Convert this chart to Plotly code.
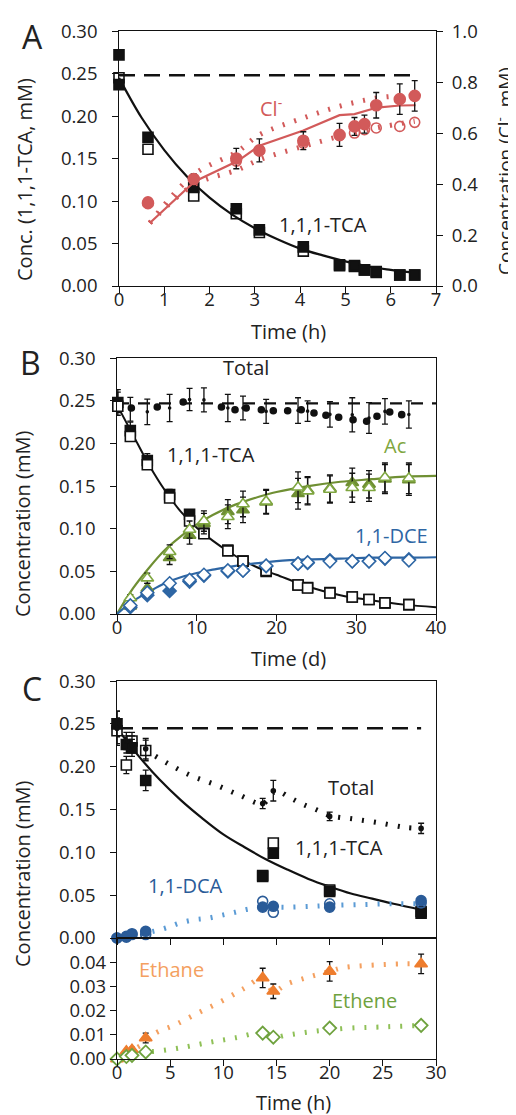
import plotly.graph_objects as go

FONT = "Open Sans"
BLACK = "#111111"
RED = "#d25a5a"
GREEN_L = "#6f8f33"
GREEN_M = "#7fa640"
BLUE = "#2e66a4"
BLUE_DOT = "#5b9bd5"
DCA_BLUE = "#2a5b98"
ORANGE = "#ee7d2e"
ORANGE_DOT = "#f4a060"
ETHENE = "#6fa23e"
ETHENE_DOT = "#8fc057"

# ---------------- Panel A data ----------------
a_tca_filled_t = [0, 0, 0.64, 1.65, 2.59, 3.1, 4.07, 4.87, 5.2, 5.42, 5.68, 6.2, 6.53]
a_tca_filled = [0.272, 0.237, 0.175, 0.116, 0.091, 0.066, 0.046, 0.025, 0.024, 0.019, 0.017, 0.013, 0.013]
a_tca_open_t = [0, 0.64, 1.65, 2.59, 3.1, 4.07, 4.87, 5.2, 5.42, 5.68, 6.2, 6.53]
a_tca_open = [0.245, 0.161, 0.106, 0.085, 0.063, 0.041, 0.024, 0.023, 0.019, 0.016, 0.013, 0.013]
a_fit_t = [0, 0.5, 1, 1.5, 2, 2.5, 3, 3.5, 4, 4.5, 5, 5.5, 6, 6.6]
a_fit = [0.245, 0.198, 0.160, 0.129, 0.104, 0.084, 0.068, 0.055, 0.044, 0.036, 0.029, 0.023, 0.019, 0.015]
a_total_t = [0, 6.53]
a_total = [0.248, 0.248]

a_cl_t = [0.64, 1.65, 2.59, 3.1, 4.07, 4.87, 5.2, 5.42, 5.68, 6.2, 6.53]
a_cl_filled = [0.325, 0.42, 0.50, 0.532, 0.57, 0.593, 0.626, 0.635, 0.709, 0.733, 0.746]
a_cl_err = [0.015, 0.02, 0.04, 0.045, 0.035, 0.045, 0.035, 0.035, 0.05, 0.06, 0.06]
a_cl_open = [0.33, 0.42, 0.49, 0.53, 0.56, 0.59, 0.60, 0.613, 0.62, 0.626, 0.642]
a_cl_model_t = [0.68, 1.67, 2.62, 3.1, 4.07, 4.87, 5.2, 5.7, 6.2, 6.55]
a_cl_model = [0.247, 0.41, 0.49, 0.55, 0.61, 0.67, 0.674, 0.70, 0.708, 0.709]
a_cl_band_t = [0.68, 1.65, 2.62, 3.1, 4.07, 4.87, 5.68, 6.53]
a_cl_upper = [0.247, 0.437, 0.528, 0.593, 0.659, 0.705, 0.737, 0.75]
a_cl_lower = [0.247, 0.397, 0.456, 0.495, 0.548, 0.587, 0.62, 0.646]

# ---------------- Panel B data ----------------
b_t = [0.1, 1.67, 3.8, 6.6, 9.1, 10.9, 13.9, 15.8, 18.7, 22.7, 23.9, 26.7, 29.5, 31.6, 33.6, 36.6]
b_tca_open = [0.2435, 0.208, 0.175, 0.136, 0.109, 0.094, 0.074, 0.062, 0.051, 0.034, 0.0305, 0.0246, 0.020, 0.017, 0.013, 0.011]
b_tca_filled = [0.248, 0.215, 0.180, 0.140, 0.117, 0.095, 0.075, 0.062, 0.050, 0.034, 0.031, 0.025, 0.020, 0.017, 0.013, 0.011]
b_tca_err = [0.012, 0.010, 0.008, 0.006, 0.005, 0, 0, 0, 0, 0, 0, 0, 0, 0, 0, 0]
b_tca_fit_t = [0, 2, 4, 6, 8, 10, 12, 14, 16, 18, 20, 24, 28, 32, 36, 40]
b_tca_fit = [0.245, 0.210, 0.175, 0.145, 0.120, 0.101, 0.086, 0.073, 0.062, 0.053, 0.046, 0.032, 0.022, 0.016, 0.011, 0.008]

b_s_t = [1.67, 3.8, 6.6, 9.1, 10.9, 13.9, 15.8, 18.7, 22.7, 23.9, 26.7, 29.5, 31.6, 33.6, 36.6]
b_ac_open = [0.0188, 0.042, 0.073, 0.099, 0.109, 0.114, 0.129, 0.132, 0.1485, 0.144, 0.146, 0.148, 0.148, 0.160, 0.159]
b_ac_filled = [0.009, 0.030, 0.066, 0.092, 0.106, 0.120, 0.122, 0.131, 0.141, 0.145, 0.147, 0.154, 0.152, 0.158, 0.157]
b_ac_err = [0.004, 0.006, 0.008, 0.010, 0.012, 0.014, 0.015, 0.014, 0.018, 0.016, 0.016, 0.017, 0.016, 0.017, 0.018]
b_ac_fit_t = [0, 2, 4, 6, 8, 10, 12, 14, 16, 18, 20, 24, 28, 32, 36, 40]
b_ac_fit = [0, 0.030, 0.054, 0.075, 0.091, 0.105, 0.116, 0.125, 0.132, 0.138, 0.143, 0.150, 0.155, 0.158, 0.161, 0.162]

b_dce_open = [0.010, 0.025, 0.036, 0.040, 0.046, 0.051, 0.051, 0.0566, 0.059, 0.0606, 0.0618, 0.0618, 0.0618, 0.0656, 0.063]
b_dce_filled = [0.008, 0.022, 0.027, 0.038, 0.045, 0.050, 0.051, 0.056, 0.059, 0.060, 0.063, 0.062, 0.062, 0.065, 0.064]
b_dce_fit_t = [0, 2, 4, 6, 8, 10, 12, 14, 16, 18, 20, 24, 28, 32, 36, 40]
b_dce_fit = [0, 0.015, 0.026, 0.036, 0.043, 0.048, 0.052, 0.055, 0.058, 0.060, 0.062, 0.064, 0.065, 0.066, 0.066, 0.0665]

b_total = [0.248, 0.240, 0.237, 0.2415, 0.2515, 0.251, 0.2415, 0.2415, 0.2375, 0.2385, 0.2378, 0.234, 0.2335, 0.2297, 0.2375, 0.2338]
b_total_err = [0.015, 0.014, 0.015, 0.016, 0.013, 0.014, 0.016, 0.014, 0.014, 0.015, 0.012, 0.015, 0.020, 0.018, 0.015, 0.016]
b_dots_t = [1.8, 5.05, 8.3, 13.1, 14.8, 16.2, 18.1, 19.6, 21.4, 23.1, 24.7, 26.2, 27.8, 29.6, 31.3, 32.6, 34.2, 35.7]
b_dots = [0.2415, 0.2427, 0.2485, 0.2427, 0.2395, 0.2415, 0.2395, 0.2383, 0.2383, 0.2395, 0.2356, 0.233, 0.2306, 0.2278, 0.2259, 0.2318, 0.2368, 0.2337]
b_ref_t = [0, 40]
b_ref = [0.247, 0.247]

# ---------------- Panel C data ----------------
c_t = [0, 0.88, 1.41, 2.7, 13.7, 14.7, 20, 28.6]
c_tca_filled = [0.250, 0.226, 0.222, 0.184, 0.072, 0.099, 0.0545, 0.029]
c_tca_open = [0.242, 0.202, 0.230, 0.219, 0.073, 0.111, 0.056, 0.031]
c_tca_err = [0.015, 0.010, 0.010, 0.012, 0, 0, 0, 0]
c_fit_t = [0, 2, 4, 6, 8, 10, 12, 14, 16, 18, 20, 22, 24, 26, 28.6]
c_fit = [0.245, 0.213, 0.185, 0.161, 0.140, 0.121, 0.106, 0.092, 0.080, 0.069, 0.060, 0.052, 0.046, 0.040, 0.033]
c_total = [0.245, 0.230, 0.226, 0.221, 0.157, 0.172, 0.142, 0.128]
c_total_err = [0.020, 0.010, 0.010, 0.012, 0.006, 0.012, 0.005, 0.006]
c_totline_t = [0, 1.4, 2.7, 4.75, 6.9, 9.25, 11.5, 13.7, 14.7, 15.2, 16.4, 17.5, 18.7, 20, 22.2, 24.6, 27.1, 28.6]
c_totline = [0.245, 0.228, 0.219, 0.204, 0.19, 0.179, 0.167, 0.157, 0.170, 0.171, 0.163, 0.156, 0.150, 0.143, 0.139, 0.1346, 0.1292, 0.128]
c_ref_t = [0, 28.6]
c_ref = [0.245, 0.245]

c_dca_filled = [0, 0.002, 0.005, 0.0078, 0.036, 0.037, 0.036, 0.0436]
c_dca_open = [0, 0.001, 0.004, 0.004, 0.0428, 0.030, 0.040, 0.041]
c_dca_line_t = [0, 1.4, 2.7, 3.7, 4.8, 5.9, 7.3, 8.6, 10, 11.1, 12.3, 13.7, 15.9, 18.3, 20, 23, 26, 28.6]
c_dca_line = [0, 0.003, 0.006, 0.0086, 0.0125, 0.0175, 0.0214, 0.0233, 0.027, 0.030, 0.0336, 0.036, 0.036, 0.037, 0.038, 0.039, 0.040, 0.040]

c_ethane = [0, 0.0032, 0.0038, 0.0087, 0.0335, 0.028, 0.0362, 0.0393]
c_ethane_err = [0, 0.0005, 0.001, 0.002, 0.004, 0.003, 0.004, 0.004]
c_ethane_line_t = [0, 1.4, 2.7, 3.55, 5.5, 7.6, 9.8, 12.0, 13.7, 14.7, 16, 18.3, 20, 21.1, 23.3, 27, 28.6]
c_ethane_line = [0, 0.0035, 0.007, 0.0105, 0.0142, 0.019, 0.0238, 0.0293, 0.0335, 0.028, 0.031, 0.0342, 0.0362, 0.0376, 0.0386, 0.0393, 0.0393]
c_ethene = [0, 0.001, 0.0015, 0.0029, 0.0107, 0.009, 0.0128, 0.0139]
c_ethene_line_t = [0, 1.4, 2.7, 3.7, 6.2, 8.7, 11.07, 13.6, 14.5, 15.9, 18.4, 20, 22, 24.6, 28.6]
c_ethene_line = [0, 0.0015, 0.0029, 0.0032, 0.0048, 0.0069, 0.0087, 0.0107, 0.0087, 0.0098, 0.0114, 0.0121, 0.0128, 0.0132, 0.0139]

# ---------------- figure ----------------
fig = go.Figure()
DOT = "2px,10px"


def line(x, y, xa, ya, color, width=2, dash="solid", shape="spline"):
    fig.add_trace(go.Scatter(x=x, y=y, xaxis=xa, yaxis=ya, mode="lines",
                             line=dict(color=color, width=width, dash=dash, shape=shape),
                             showlegend=False, hoverinfo="skip"))


def marks(x, y, xa, ya, symbol, color, size=10, fill=None, lw=1.6, err=None, errcolor=BLACK):
    m = dict(symbol=symbol, size=size, color=fill if fill else color,
             line=dict(color=color, width=lw))
    kw = {}
    if err is not None:
        kw["error_y"] = dict(type="data", array=err, color=errcolor, thickness=1.3, width=3)
    fig.add_trace(go.Scatter(x=x, y=y, xaxis=xa, yaxis=ya, mode="markers", marker=m,
                             cliponaxis=False, showlegend=False, hoverinfo="skip", **kw))


# Panel A
line(a_total_t, a_total, "x", "y", BLACK, 2.6, "16px,9px", "linear")
line(a_fit_t, a_fit, "x", "y", BLACK, 2.2)
marks(a_tca_open_t, a_tca_open, "x", "y", "square-open", BLACK, 10, lw=1.6)
marks(a_tca_filled_t, a_tca_filled, "x", "y", "square", BLACK, 10)
line(a_cl_band_t, a_cl_upper, "x", "y2", RED, 5, DOT)
line(a_cl_band_t, a_cl_lower, "x", "y2", RED, 5, DOT)
line(a_cl_model_t, a_cl_model, "x", "y2", RED, 2.2, "solid", "linear")
marks(a_cl_t, a_cl_open, "x", "y2", "circle-open", RED, 10, lw=1.6)
marks(a_cl_t, a_cl_filled, "x", "y2", "circle", RED, 11, err=a_cl_err)

# Panel B
line(b_ref_t, b_ref, "x3", "y3", BLACK, 2.2, "12px,9px", "linear")
marks(b_t, b_total, "x3", "y3", "circle", BLACK, 2, err=b_total_err)
marks(b_dots_t, b_dots, "x3", "y3", "circle", BLACK, 6)
line(b_tca_fit_t, b_tca_fit, "x3", "y3", BLACK, 2)
line(b_ac_fit_t, b_ac_fit, "x3", "y3", GREEN_L, 2.2)
line(b_dce_fit_t, b_dce_fit, "x3", "y3", BLUE, 2.2)
marks(b_t, b_tca_filled, "x3", "y3", "square", BLACK, 10, err=b_tca_err)
marks(b_t, b_tca_open, "x3", "y3", "square", BLACK, 10, fill="white", lw=1.6)
marks(b_s_t, b_ac_filled, "x3", "y3", "triangle-up", GREEN_L, 11, err=b_ac_err)
marks(b_s_t, b_ac_open, "x3", "y3", "triangle-up", GREEN_M, 11, fill="white", lw=1.6, err=b_ac_err)
marks(b_s_t, b_dce_filled, "x3", "y3", "diamond", BLUE, 10)
marks(b_s_t, b_dce_open, "x3", "y3", "diamond", BLUE, 10, fill="white", lw=1.6)

# Panel C upper
line(c_ref_t, c_ref, "x4", "y4", BLACK, 2.6, "16px,9px", "linear")
line(c_totline_t, c_totline, "x4", "y4", BLACK, 5, DOT)
line(c_fit_t, c_fit, "x4", "y4", BLACK, 2.2)
line(c_dca_line_t, c_dca_line, "x4", "y4", BLUE_DOT, 5, DOT)
marks(c_t, c_tca_open, "x4", "y4", "square", BLACK, 10, fill="white", lw=1.6, err=c_tca_err)
marks(c_t, c_tca_filled, "x4", "y4", "square", BLACK, 10, err=c_tca_err)
marks(c_t, c_total, "x4", "y4", "circle", BLACK, 4, err=c_total_err)
marks(c_t, c_dca_open, "x4", "y4", "circle-open", DCA_BLUE, 10, lw=1.6)
marks(c_t, c_dca_filled, "x4", "y4", "circle", DCA_BLUE, 10)

# Panel C lower
line(c_ethane_line_t, c_ethane_line, "x5", "y5", ORANGE_DOT, 5, DOT)
line(c_ethene_line_t, c_ethene_line, "x5", "y5", ETHENE_DOT, 5, DOT)
marks(c_t, c_ethane, "x5", "y5", "triangle-up", ORANGE, 11, err=c_ethane_err)
marks(c_t, c_ethene, "x5", "y5", "diamond", ETHENE, 10, fill="white", lw=1.8)

# empty traces that register the label-only twin x axes
for xa, ya in (("x6", "y"), ("x7", "y3"), ("x8", "y5")):
    fig.add_trace(go.Scatter(x=[], y=[], xaxis=xa, yaxis=ya, mode="markers",
                             showlegend=False, hoverinfo="skip"))

W, H = 516, 1115


def px(x):
    return x / W


def py(y):
    return (H - y) / H


tick_font = dict(family=FONT, size=18.5, color="#222222")
base = dict(showline=True, linecolor=BLACK, linewidth=1.4, ticks="outside", ticklen=6,
            tickwidth=1.4, tickcolor=BLACK, showgrid=False, zeroline=False,
            tickfont=tick_font, automargin=False)
# label-only twin x axis (labels sit closer to the axis line)
lab = dict(showline=False, ticks="", showgrid=False, zeroline=False, tickfont=tick_font,
           automargin=False, side="bottom")
# invisible padding glyphs to push y tick labels away from the axis lines
YSUF = "<span style='color:rgba(0,0,0,0)'>0</span>"
RPRE = "<span style='color:rgba(0,0,0,0)'>.</span>"

xA = [px(111), px(428)]
xBC = [px(109), px(428)]

fig.update_layout(
    width=W, height=H, margin=dict(l=0, r=0, t=0, b=0),
    paper_bgcolor="white", plot_bgcolor="white",
    font=dict(family=FONT, color="#222222"),
    xaxis=dict(base, domain=xA, range=[0, 7.0001], dtick=1, anchor="y", mirror=True,
               showticklabels=False),
    xaxis6=dict(lab, range=[0, 7.0001], dtick=1, anchor="y", overlaying="x"),
    yaxis=dict(base, domain=[py(278), py(23)], range=[0, 0.3001], dtick=0.05,
               tickformat=".2f", anchor="x", ticksuffix=YSUF),
    yaxis2=dict(base, domain=[py(278), py(23)], range=[0, 1.0003], dtick=0.2,
                tickformat=".1f", overlaying="y", side="right", anchor="x", tickprefix=RPRE),
    xaxis3=dict(base, domain=xBC, range=[0, 40.0001], dtick=10, anchor="y3", mirror=True,
                showticklabels=False),
    xaxis7=dict(lab, range=[0, 40.0001], dtick=10, anchor="y3", overlaying="x3"),
    yaxis3=dict(base, domain=[py(606), py(350)], range=[0, 0.3001], dtick=0.05,
                tickformat=".2f", anchor="x3", mirror=True, ticksuffix=YSUF),
    xaxis4=dict(base, domain=xBC, range=[0, 30.0001], dtick=5, anchor="y4", mirror=True,
                showticklabels=False),
    yaxis4=dict(base, domain=[py(930), py(673)], range=[0, 0.3001], dtick=0.05,
                tickformat=".2f", anchor="x4", mirror=True, ticksuffix=YSUF),
    xaxis5=dict(base, domain=xBC, range=[0, 30.0001], dtick=5, anchor="y5", mirror=True,
                showticklabels=False),
    xaxis8=dict(lab, range=[0, 30.0001], dtick=5, anchor="y5", overlaying="x5"),
    yaxis5=dict(base, domain=[py(1051), py(930)], range=[0, 0.05],
                tickvals=[0, 0.01, 0.02, 0.03, 0.04], tickformat=".2f", anchor="x5",
                mirror=True, ticksuffix=YSUF),
)

ann = []


def text(x, y, s, size=20, color="#222222", angle=0, xref="paper", yref="paper"):
    ann.append(dict(x=x, y=y, xref=xref, yref=yref, text=s, showarrow=False,
                    font=dict(family=FONT, size=size, color=color), textangle=angle,
                    xanchor="center", yanchor="middle",
                    xshift=-8 if angle else 0, yshift=0 if angle else 6))


# panel letters
text(px(24), py(34), "A", 32)
text(px(22), py(360), "B", 32)
text(px(24), py(686), "C", 32)
# axis titles
text(px(25), py(172), "Conc. (1,1,1-TCA, mM)", 20, angle=-90)
text(px(504), py(163), "Concentration (Cl<sup>-</sup>, mM)", 19, angle=-90)
text(px(22), py(516), "Concentration (mM)", 20, angle=-90)
text(px(22), py(866), "Concentration (mM)", 20, angle=-90)
text(px(280), py(329), "Time (h)", 20)
text(px(280), py(656), "Time (d)", 20)
text(px(285), py(1100), "Time (h)", 20)
# in-plot labels
text(3.36, 0.675, "Cl<sup>-</sup>", 20, RED, xref="x", yref="y2")
text(4.5, 0.0655, "1,1,1-TCA", 20, xref="x", yref="y")
text(16.2, 0.282, "Total", 20, xref="x3", yref="y3")
text(11.8, 0.180, "1,1,1-TCA", 20, xref="x3", yref="y3")
text(34.9, 0.191, "Ac", 20, GREEN_M, xref="x3", yref="y3")
text(34.4, 0.0855, "1,1-DCE", 20, BLUE, xref="x3", yref="y3")
text(22.0, 0.169, "Total", 20, xref="x4", yref="y4")
text(20.9, 0.099, "1,1,1-TCA", 20, xref="x4", yref="y4")
text(6.4, 0.0545, "1,1-DCA", 20, DCA_BLUE, xref="x4", yref="y4")
text(5.1, 0.0346, "Ethane", 20, ORANGE_DOT, xref="x5", yref="y5")
text(23.3, 0.0218, "Ethene", 20, ETHENE, xref="x5", yref="y5")
fig.update_layout(annotations=ann)

fig.write_html("out.html")
